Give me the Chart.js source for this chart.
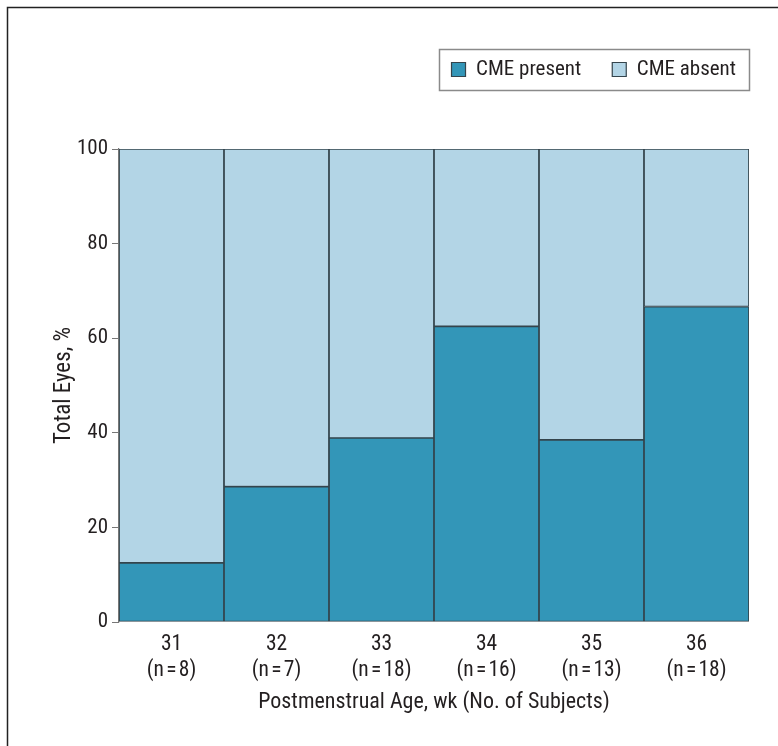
<!DOCTYPE html>
<html>
<head>
<meta charset="utf-8">
<script src="https://cdn.jsdelivr.net/npm/chart.js@4"></script>
<style>
  html, body { margin: 0; padding: 0; background: #fff; }
  #wrap { width: 778px; height: 746px; }
</style>
</head>
<body>
<div id="wrap"><canvas id="chart" width="778" height="746"></canvas></div>
<script>
// Postmenstrual age (wk) and number of subjects per group
const weeks = ['31', '32', '33', '34', '35', '36'];
const subjects = [8, 7, 18, 16, 13, 18];
// Percentage of eyes with / without CME
const cmePresent = [12.5, 28.6, 38.9, 62.5, 38.5, 66.7];
const cmeAbsent = [87.5, 71.4, 61.1, 37.5, 61.5, 33.3];
const yTicks = [0, 20, 40, 60, 80, 100];

const FONT = "'Roboto Condensed', 'DejaVu Sans Condensed', sans-serif";
const TEXT = '#231f20';
const EDGE = '#34444c';

// x labels: week on first line, group size underneath
const xLabels = weeks.map((w, i) => [w, '(n\u200A=\u200A' + subjects[i] + ')']);

// legend sits in its own band above the plot, boxed, flush with the plot's right edge
const legendBox = {
    id: 'legendBox',
    beforeLayout(chart) {
        const legend = chart.legend;
        if (legend && !legend._bandFit) {
            const fit = legend.fit;
            legend.fit = function () {
                fit.call(this);
                this.height = 121;
            };
            legend._bandFit = true;
        }
    },
    afterLayout(chart) {
        chart.legend.right = chart.chartArea.right + 18;
    },
    afterDraw(chart) {
        const ctx = chart.ctx;
        ctx.save();
        // outer frame
        ctx.strokeStyle = '#222';
        ctx.lineWidth = 1.5;
        ctx.strokeRect(7.5, 7.5, 900, 900);

        const boxes = chart.legend.legendHitBoxes;
        if (boxes && boxes.length) {
            const first = boxes[0];
            const last = boxes[boxes.length - 1];
            const cy = first.top + first.height / 2;
            const x0 = Math.round(first.left - 13) + 0.5;
            const x1 = Math.round(last.left + last.width + 13) + 0.5;
            ctx.strokeStyle = '#8a8a8a';
            ctx.lineWidth = 1.5;
            ctx.strokeRect(x0, Math.round(cy - 20.5) + 0.5, x1 - x0, 41);
        }
        ctx.restore();
    }
};

new Chart(document.getElementById('chart'), {
    type: 'bar',
    data: {
        labels: xLabels,
        datasets: [{
            label: 'CME present',
            data: cmePresent,
            backgroundColor: '#3396b8',
            borderColor: EDGE,
            borderWidth: 1.2,
            borderSkipped: false
        }, {
            label: 'CME absent',
            data: cmeAbsent,
            backgroundColor: '#b3d5e6',
            borderColor: EDGE,
            borderWidth: 1.2,
            borderSkipped: false
        }]
    },
    options: {
        responsive: false,
        animation: false,
        layout: { padding: { top: 28, right: 29, bottom: 26, left: 50 } },
        datasets: { bar: { categoryPercentage: 1, barPercentage: 1 } },
        plugins: {
            legend: {
                position: 'top',
                align: 'end',
                labels: {
                    color: TEXT,
                    font: { family: FONT, size: 21 },
                    boxWidth: 14,
                    boxHeight: 14,
                    padding: 31,
                    useBorderRadius: false
                }
            },
            tooltip: { enabled: false }
        },
        scales: {
            x: {
                stacked: true,
                grid: { display: false },
                border: { display: false },
                ticks: {
                    color: TEXT,
                    font: { family: FONT, size: 21.5, lineHeight: 1.2 },
                    padding: 2,
                    maxRotation: 0
                },
                title: {
                    display: true,
                    text: 'Postmenstrual Age, wk (No. of Subjects)',
                    color: TEXT,
                    font: { family: FONT, size: 22 },
                    padding: { top: 4 }
                }
            },
            y: {
                stacked: true,
                min: 0,
                max: 100,
                afterBuildTicks(axis) {
                    axis.ticks = yTicks.map(v => ({ value: v }));
                },
                afterFit(axis) {
                    axis.width = 69;
                },
                grid: {
                    drawOnChartArea: false,
                    drawTicks: true,
                    tickLength: 7,
                    color: '#777'
                },
                border: { display: true, color: '#777', width: 1.2 },
                ticks: {
                    color: TEXT,
                    font: { family: FONT, size: 21 },
                    padding: 4
                },
                title: {
                    display: true,
                    text: 'Total Eyes, %',
                    color: TEXT,
                    font: { family: FONT, size: 23 },
                    padding: 0
                }
            }
        }
    },
    plugins: [legendBox]
});
</script>
</body>
</html>
